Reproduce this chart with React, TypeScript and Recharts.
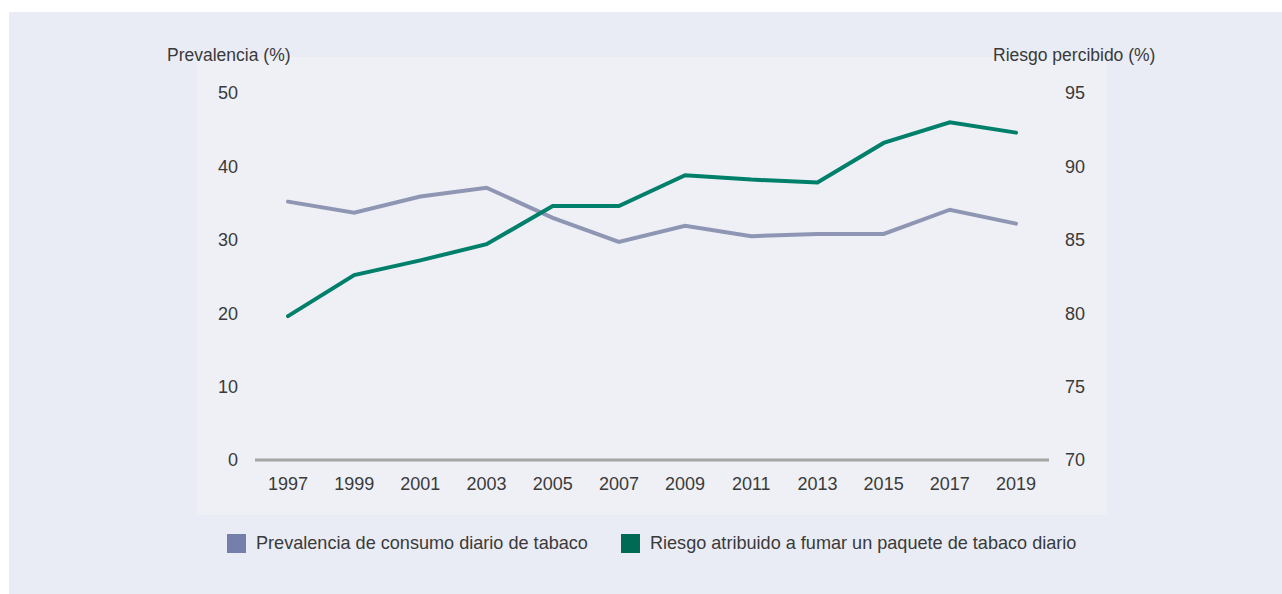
import React from "react";
import { LineChart, Line, XAxis, YAxis } from "recharts";

const years = ["1997", "1999", "2001", "2003", "2005", "2007", "2009", "2011", "2013", "2015", "2017", "2019"];
const prevalencia = [35.2, 33.7, 35.9, 37.1, 33.0, 29.7, 31.9, 30.5, 30.8, 30.8, 34.1, 32.2];
const riesgo = [79.8, 82.6, 83.6, 84.7, 87.3, 87.3, 89.4, 89.1, 88.9, 91.6, 93.0, 92.3];
const leftTicks = [0, 10, 20, 30, 40, 50];
const rightTicks = [70, 75, 80, 85, 90, 95];
const seriesNames = ["Prevalencia de consumo diario de tabaco", "Riesgo atribuido a fumar un paquete de tabaco diario"];
const lineColors = ["#8f96b4", "#00806b"];
const legendColors = ["#7580aa", "#006a55"];
const leftTitle = "Prevalencia (%)";
const rightTitle = "Riesgo percibido (%)";

const data = years.map((y, i) => ({ year: y, prev: prevalencia[i], risk: riesgo[i] }));

const FONT = "'Liberation Sans', Arial, Helvetica, sans-serif";
const TEXT = "#3a3a3a";

export default function App() {
  return (
    <div style={{ position: "fixed", left: 0, top: 0, width: 1282, height: 594, background: "#ffffff", fontFamily: FONT, overflow: "hidden" }}>
      <div style={{ position: "absolute", left: 9, top: 12, right: 0, bottom: 0, background: "#e9ecf4" }} />
      <div style={{ position: "absolute", left: 197, top: 57, width: 910, height: 458, background: "#eef0f5" }} />
      <div style={{ position: "absolute", left: 167, top: 45, fontSize: 17.5, color: TEXT, lineHeight: "20px", whiteSpace: "nowrap" }}>{leftTitle}</div>
      <div style={{ position: "absolute", left: 993, top: 45, fontSize: 17.5, color: TEXT, lineHeight: "20px", whiteSpace: "nowrap" }}>{rightTitle}</div>
      <div style={{ position: "absolute", left: 0, top: 0 }}>
        <LineChart width={1282} height={594} data={data} margin={{ top: 93, right: 0, left: 0, bottom: 94 }}>
          <XAxis
            dataKey="year"
            height={40}
            padding={{ left: 33, right: 33 }}
            axisLine={{ stroke: "#a6a6a6", strokeWidth: 3 }}
            tickLine={false}
            tickSize={0}
            tickMargin={17}
            interval={0}
            tick={{ fill: TEXT, fontSize: 18, fontFamily: FONT }}
          />
          <YAxis
            yAxisId="left"
            orientation="left"
            width={255}
            domain={[0, 50]}
            ticks={leftTicks}
            axisLine={false}
            tickLine={false}
            tickSize={0}
            tickMargin={17}
            tick={{ fill: TEXT, fontSize: 18, fontFamily: FONT }}
          />
          <YAxis
            yAxisId="right"
            orientation="right"
            width={233}
            domain={[70, 95]}
            ticks={rightTicks}
            axisLine={false}
            tickLine={false}
            tickSize={0}
            tickMargin={16}
            tick={{ fill: TEXT, fontSize: 18, fontFamily: FONT, textAnchor: "start" }}
          />
          <Line yAxisId="left" type="linear" dataKey="prev" name={seriesNames[0]} stroke={lineColors[0]} strokeWidth={4} dot={false} strokeLinecap="round" isAnimationActive={false} />
          <Line yAxisId="right" type="linear" dataKey="risk" name={seriesNames[1]} stroke={lineColors[1]} strokeWidth={4} dot={false} strokeLinecap="round" isAnimationActive={false} />
        </LineChart>
      </div>
      <div style={{ position: "absolute", left: 227, top: 534, display: "flex", alignItems: "center" }}>
        {seriesNames.map((n, i) => (
          <div key={n} style={{ display: "flex", alignItems: "center", marginRight: i === 0 ? 33 : 0 }}>
            <div style={{ width: 19, height: 19, background: legendColors[i], marginRight: 10 }} />
            <span style={{ fontSize: 18.1, color: TEXT, whiteSpace: "nowrap", lineHeight: "19px" }}>{n}</span>
          </div>
        ))}
      </div>
    </div>
  );
}
